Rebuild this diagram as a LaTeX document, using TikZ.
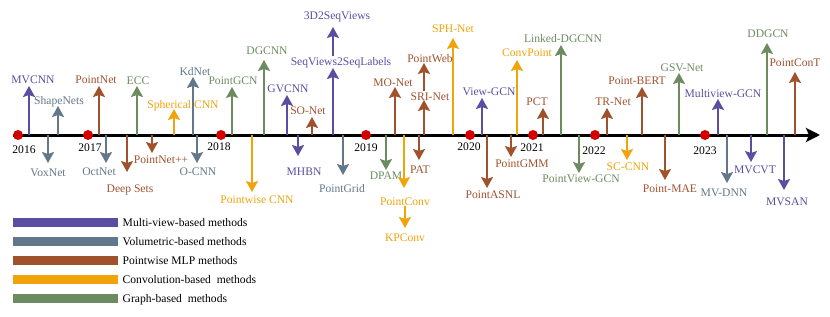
\documentclass[tikz,border=0pt]{standalone}
\usepackage{fontspec}
\setmainfont{Liberation Serif}
\usetikzlibrary{arrows.meta}
\definecolor{mvcol}{HTML}{5B4EA0}
\definecolor{volcol}{HTML}{62778A}
\definecolor{pwcol}{HTML}{A0522D}
\definecolor{cvcol}{HTML}{F0A30A}
\definecolor{grcol}{HTML}{6D8B61}
\definecolor{dotcol}{HTML}{D40000}
\begin{document}
\begin{tikzpicture}[x=1pt, y=-1pt,
	lbl/.style={font=\fontsize{11.6}{13}\selectfont, inner sep=1pt, text height=8pt, text depth=0pt},
	arr/.style={line width=2pt, -{Stealth[length=11pt, width=12pt, inset=2pt]}},
	yr/.style={lbl, text=black},
	legbar/.style={minimum width=106pt, minimum height=10pt, inner sep=0pt, draw=white, line width=0.5pt}]
	\useasboundingbox (0,0) rectangle (830,316);
	
	% time axis
	\coordinate (start) at (13,135);
	\coordinate (end) at (820,135);
	\draw [line width=3pt, -{Stealth[length=14pt, width=14pt, inset=3pt]}] (start) -- (end);
	
	% arrows going up
	\foreach \n/\c/\x/\t/\lx/\ly/\txt in {
		mvcnn/mvcol/29/86/33/79/MVCNN, shapenets/volcol/58/106/59/100/ShapeNets,
		pointnet/pwcol/99/86/96/79/PointNet, ecc/grcol/137/86/138/80/ECC,
		spherical/cvcol/174/109/183/104/Spherical CNN, kdnet/volcol/193/77/195/71/KdNet,
		pointgcn/grcol/232/87/233/80/PointGCN, dgcnn/grcol/264/60/267/50/DGCNN,
		gvcnn/mvcol/287/95/288/88/GVCNN, sonet/pwcol/312/117/308/110/SO-Net,
		seqlabels/mvcol/333/68/341/61/SeqViews2SeqLabels, monet/pwcol/395/87/393/82/MO-Net,
		srinet/pwcol/424/100/430/96/SRI-Net, sphnet/cvcol/453/38/453/28/SPH-Net,
		viewgcn/mvcol/482/98/489/91/View-GCN, convpoint/cvcol/517/60/527/52/ConvPoint,
		pct/pwcol/543/108/537/101/PCT, linked/grcol/561/45/563/38/Linked-DGCNN,
		trnet/pwcol/607/108/613/101/TR-Net, bert/pwcol/642/87/637/80/Point-BERT,
		gsvnet/grcol/679/73/682/67/GSV-Net, mvgcn/mvcol/718/99/723/93/Multiview-GCN,
		ddgcn/grcol/767/43/768/33/DDGCN, pointcont/pwcol/795/72/795/62/PointConT}
	{
		\coordinate (b-\n) at (\x,135);
		\coordinate (t-\n) at (\x,\t);
		\draw [arr, draw=\c] (b-\n) -- (t-\n);
		\node [lbl, text=\c] (\n) at (\lx,\ly) {\txt};
	}
	
	% arrows going down
	\foreach \n/\c/\x/\t/\lx/\ly/\txt in {
		voxnet/volcol/48/163/48/172/VoxNet, octnet/volcol/106/163/99/171/OctNet,
		deepsets/pwcol/127/172/130/188/Deep Sets, pointnetpp/pwcol/152/153/161/159/PointNet++,
		ocnn/volcol/197/163/198/171/O-CNN, pwcnn/cvcol/252/192/257/199/Pointwise CNN,
		mhbn/mvcol/298/156/304/171/MHBN, pointgrid/volcol/343/175/342/188/PointGrid,
		dpam/grcol/386/170/386/175/DPAM, pointconv/cvcol/404/188/405/201/PointConv,
		pat/pwcol/419/160/420/169/PAT, asnl/pwcol/487/188/493/194/PointASNL,
		gmm/pwcol/511/157/522/163/PointGMM, pvgcn/grcol/579/173/581/178/PointView-GCN,
		sccnn/cvcol/627/160/628/166/SC-CNN, mae/pwcol/665/180/670/188/Point-MAE,
		mvdnn/volcol/727/183/724/192/MV-DNN, mvcvt/mvcol/751/162/755/169/MVCVT,
		mvsan/mvcol/784/190/787/201/MVSAN}
	{
		\coordinate (b-\n) at (\x,135);
		\coordinate (t-\n) at (\x,\t);
		\draw [arr, draw=\c] (b-\n) -- (t-\n);
		\node [lbl, text=\c] (\n) at (\lx,\ly) {\txt};
	}
	
	% stacked ones
	\coordinate (t-seqviews) at (333,27);
	\node [lbl, text=mvcol] (seqviews) at (337,15) {3D2SeqViews};
	\draw [arr, draw=mvcol] (seqlabels.north -| t-seqviews) -- (t-seqviews);
	\coordinate (t-pointweb) at (424,63);
	\node [lbl, text=pwcol] (pointweb) at (430,58) {PointWeb};
	\draw [arr, draw=pwcol] (srinet.north -| t-pointweb) -- (t-pointweb);
	\coordinate (t-kpconv) at (405,228);
	\node [lbl, text=cvcol] (kpconv) at (405,237) {KPConv};
	\draw [arr, draw=cvcol] (pointconv.south -| t-kpconv) -- (t-kpconv);
	
	% years
	\foreach \yy/\x/\lx/\ly in {2016/18/24/149, 2017/88/90/147, 2018/221/219/146, 2019/366/366/147,
		2020/470/469/146, 2021/533/532/147, 2022/595/594/150, 2023/705/705/150}
	{
		\fill [dotcol] (\x,135) circle (5pt);
		\node [yr] (y\yy) at (\lx,\ly) {\yy};
	}
	
	% legend
	\foreach \c/\y/\txt [count=\i] in {mvcol/222/Multi-view-based methods, volcol/241/Volumetric-based methods,
		pwcol/260/Pointwise MLP methods, cvcol/279/Convolution-based\ \ methods, grcol/298/Graph-based\ \ methods}
	{
		\node [legbar, fill=\c, anchor=west] (bar\i) at (12,\y) {};
		\node [lbl, anchor=west] (leg\i) at ([xshift=3pt]bar\i.east) {\txt};
	}
\end{tikzpicture}
\end{document}
